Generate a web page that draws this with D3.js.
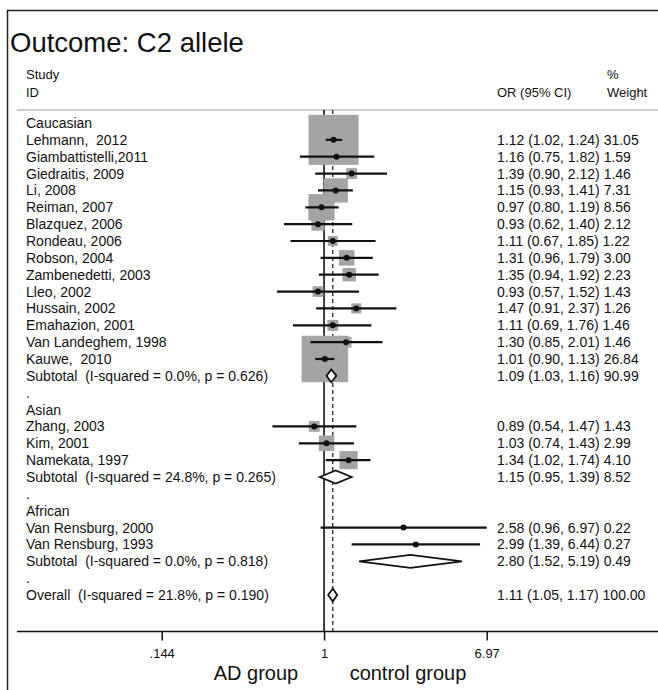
<!DOCTYPE html>
<html>
<head>
<meta charset="utf-8">
<script src="https://cdn.jsdelivr.net/npm/d3@7/dist/d3.min.js"></script>
<style>
  html, body { margin: 0; padding: 0; background: #fff; }
  svg { display: block; }
  text { font-family: "Liberation Sans", Arial, sans-serif; fill: #111; white-space: pre; }
</style>
</head>
<body>
<svg id="chart" width="658" height="690"></svg>
<script>
// ---------- data ----------
const groupNames = ["Caucasian", "Asian", "African"];
const studyNames = [
  "Lehmann,  2012", "Giambattistelli,2011", "Giedraitis, 2009", "Li, 2008", "Reiman, 2007",
  "Blazquez, 2006", "Rondeau, 2006", "Robson, 2004", "Zambenedetti, 2003", "Lleo, 2002",
  "Hussain, 2002", "Emahazion, 2001", "Van Landeghem, 1998", "Kauwe,  2010",
  "Zhang, 2003", "Kim, 2001", "Namekata, 1997",
  "Van Rensburg, 2000", "Van Rensburg, 1993"
];
const studyGroup = [0,0,0,0,0,0,0,0,0,0,0,0,0,0, 1,1,1, 2,2];
const studyOR = [1.12,1.16,1.39,1.15,0.97,0.93,1.11,1.31,1.35,0.93,1.47,1.11,1.30,1.01, 0.89,1.03,1.34, 2.58,2.99];
const studyLo = [1.02,0.75,0.90,0.93,0.80,0.62,0.67,0.96,0.94,0.57,0.91,0.69,0.85,0.90, 0.54,0.74,1.02, 0.96,1.39];
const studyHi = [1.24,1.82,2.12,1.41,1.19,1.40,1.85,1.79,1.92,1.52,2.37,1.76,2.01,1.13, 1.47,1.43,1.74, 6.97,6.44];
const studyWeight = [31.05,1.59,1.46,7.31,8.56,2.12,1.22,3.00,2.23,1.43,1.26,1.46,1.46,26.84, 1.43,2.99,4.10, 0.22,0.27];

const subtotalLabels = [
  "Subtotal  (I-squared = 0.0%, p = 0.626)",
  "Subtotal  (I-squared = 24.8%, p = 0.265)",
  "Subtotal  (I-squared = 0.0%, p = 0.818)"
];
const subtotalOR = [1.09, 1.15, 2.80];
const subtotalLo = [1.03, 0.95, 1.52];
const subtotalHi = [1.16, 1.39, 5.19];
const subtotalWeight = [90.99, 8.52, 0.49];

const overallLabel = "Overall  (I-squared = 21.8%, p = 0.190)";
const overallOR = 1.11, overallLo = 1.05, overallHi = 1.17, overallWeight = 100.00;

const tickValues = [0.144, 1, 6.97];
const tickLabels = [".144", "1", "6.97"];
const titleText = "Outcome: C2 allele";
const leftAxisLabel = "AD group";
const rightAxisLabel = "control group";

// ---------- rows ----------
const rows = [];
groupNames.forEach((g, gi) => {
  rows.push({ type: "group", label: g });
  studyNames.forEach((s, i) => {
    if (studyGroup[i] === gi) rows.push({ type: "study", label: s, or: studyOR[i], lo: studyLo[i], hi: studyHi[i], w: studyWeight[i] });
  });
  rows.push({ type: "sub", label: subtotalLabels[gi], or: subtotalOR[gi], lo: subtotalLo[gi], hi: subtotalHi[gi], w: subtotalWeight[gi] });
  rows.push({ type: "dot", label: "." });
});
rows.push({ type: "sub", label: overallLabel, or: overallOR, lo: overallLo, hi: overallHi, w: overallWeight });

// ---------- layout ----------
const svg = d3.select("#chart");
const x = d3.scaleLog().domain([0.144, 6.97]).range([161.7, 486.7]);
const y = d3.scaleLinear().domain([0, rows.length - 1]).range([123, 595]);
const side = d3.scaleSqrt().domain([0, 31.05]).range([0, 50]);
const fmt = d3.format(".2f");
const topY = 110, axisY = 631.5;

// frame
svg.append("path").attr("d", "M7.5,690 V10.5 H658").attr("fill", "none").attr("stroke", "#222").attr("stroke-width", 1.5);

// title
svg.append("text").attr("x", 10).attr("y", 52).attr("font-size", 27.5).text(titleText);

// header
svg.append("text").attr("x", 26).attr("y", 79).attr("font-size", 13).text("Study");
svg.append("text").attr("x", 26).attr("y", 97).attr("font-size", 13).text("ID");
svg.append("text").attr("x", 497).attr("y", 97).attr("font-size", 13).text("OR (95% CI)");
svg.append("text").attr("x", 607).attr("y", 79).attr("font-size", 13).text("%");
svg.append("text").attr("x", 607).attr("y", 97).attr("font-size", 13).text("Weight");
svg.append("line").attr("x1", 17).attr("x2", 658).attr("y1", topY).attr("y2", topY).attr("stroke", "#999").attr("stroke-width", 1);

// reference lines
svg.append("line").attr("x1", x(1)).attr("x2", x(1)).attr("y1", topY).attr("y2", axisY).attr("stroke", "#111").attr("stroke-width", 1.6);
svg.append("line").attr("x1", x(overallOR)).attr("x2", x(overallOR)).attr("y1", topY).attr("y2", axisY)
  .attr("stroke", "#111").attr("stroke-width", 1.2).attr("stroke-dasharray", "4,3");

const indexed = rows.map((r, i) => Object.assign({ i }, r));
const studies = indexed.filter(r => r.type === "study");
const subs = indexed.filter(r => r.type === "sub");

// boxes
svg.append("g").selectAll("rect").data(studies).join("rect")
  .attr("x", d => x(d.or) - side(d.w) / 2).attr("y", d => y(d.i) - side(d.w) / 2)
  .attr("width", d => side(d.w)).attr("height", d => side(d.w))
  .attr("fill", "#a4a4a4");

// CI lines
svg.append("g").selectAll("line").data(studies).join("line")
  .attr("x1", d => x(d.lo)).attr("x2", d => x(d.hi)).attr("y1", d => y(d.i)).attr("y2", d => y(d.i))
  .attr("stroke", "#111").attr("stroke-width", 2.2);

// points
svg.append("g").selectAll("circle").data(studies).join("circle")
  .attr("cx", d => x(d.or)).attr("cy", d => y(d.i)).attr("r", 3).attr("fill", "#111");

// diamonds
const h = 6.5;
svg.append("g").selectAll("path").data(subs).join("path")
  .attr("d", d => `M${x(d.lo)},${y(d.i)} L${x(d.or)},${y(d.i) - h} L${x(d.hi)},${y(d.i)} L${x(d.or)},${y(d.i) + h} Z`)
  .attr("fill", "#fff").attr("stroke", "#111").attr("stroke-width", 1.8);

// labels
svg.append("g").selectAll("text").data(indexed).join("text")
  .attr("x", 26).attr("y", d => y(d.i)).attr("dy", "0.36em").attr("font-size", 14)
  .text(d => d.label);

// numbers
svg.append("g").selectAll("text").data(indexed.filter(r => r.or !== undefined)).join("text")
  .attr("x", 497).attr("y", d => y(d.i)).attr("dy", "0.36em").attr("font-size", 14)
  .text(d => `${fmt(d.or)} (${fmt(d.lo)}, ${fmt(d.hi)}) ${fmt(d.w)}`);

// axis
svg.append("line").attr("x1", 17).attr("x2", 658).attr("y1", axisY).attr("y2", axisY).attr("stroke", "#111").attr("stroke-width", 1.5);
const axis = d3.axisBottom(x).tickValues(tickValues).tickFormat((d, i) => tickLabels[i]).tickSizeInner(9).tickSizeOuter(0).tickPadding(8);
const ag = svg.append("g").attr("transform", `translate(0,${axisY})`).call(axis);
ag.select(".domain").remove();
ag.selectAll(".tick line").attr("stroke", "#111").attr("stroke-width", 1.5);
ag.selectAll(".tick text").attr("font-size", 13).attr("font-family", "Liberation Sans, Arial, sans-serif").attr("fill", "#111");

svg.append("text").attr("x", 256).attr("y", 680).attr("text-anchor", "middle").attr("font-size", 20).text(leftAxisLabel);
svg.append("text").attr("x", 408).attr("y", 680).attr("text-anchor", "middle").attr("font-size", 20).text(rightAxisLabel);
</script>
</body>
</html>
